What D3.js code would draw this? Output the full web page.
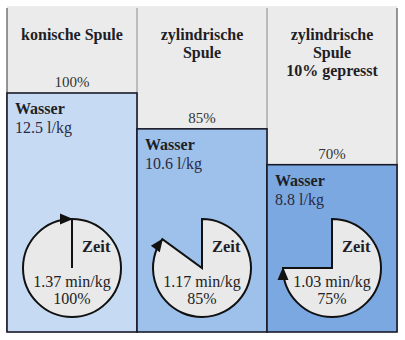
<!DOCTYPE html>
<html><head><meta charset="utf-8">
<script src="https://cdn.jsdelivr.net/npm/d3@7"></script>
<style>html,body{margin:0;padding:0;background:#fff;}svg{display:block;}</style>
</head><body>
<svg id="chart" width="405" height="340"></svg>
<script>
const categories = [["konische Spule"], ["zylindrische", "Spule"], ["zylindrische", "Spule", "10% gepresst"]];
const waterValues = [12.5, 10.6, 8.8];
const waterPct = [100, 85, 70];
const timeValues = [1.37, 1.17, 1.03];
const timePct = [100, 85, 75];
const boxColors = ["#c6dbf3", "#9dc1ea", "#7ba8e1"];

const svg = d3.select("#chart");
const mLeft = 7, mRight = 397, mTop = 6, mBottom = 332;
const x = d3.scaleBand().domain(d3.range(categories.length)).range([mLeft, mRight]).padding(0);
const y = d3.scaleLinear().domain([0, 100]).range([mBottom, 93]);
const fmt = d3.format(".2f");
const serif = "'Liberation Serif', 'DejaVu Serif', serif";
const ink = "#1e1e26";

svg.append("rect").attr("x", mLeft).attr("y", mTop).attr("width", mRight - mLeft).attr("height", mBottom - mTop).attr("fill", "#ebebeb");
x.domain().forEach(i => {
  if (i > 0) svg.append("line").attr("x1", x(i)).attr("x2", x(i)).attr("y1", mTop + 2).attr("y2", mBottom).attr("stroke", "#8a8a8a").attr("stroke-width", 1);
});
svg.append("line").attr("x1", mLeft).attr("x2", mLeft).attr("y1", mTop + 2).attr("y2", mBottom).attr("stroke", "#555").attr("stroke-width", 1.2);
svg.append("line").attr("x1", mRight).attr("x2", mRight).attr("y1", mTop + 2).attr("y2", mBottom).attr("stroke", "#555").attr("stroke-width", 1.2);

const g = svg.selectAll("g.col").data(categories).enter().append("g").attr("class", "col");

g.each(function(lines, i) {
  const t = d3.select(this).append("text").attr("font-family", serif).attr("font-weight", "bold").attr("font-size", 16)
    .attr("fill", ink).attr("text-anchor", "middle");
  lines.forEach((l, k) => t.append("tspan").attr("x", x(i) + x.bandwidth() / 2).attr("y", 40 + k * 18).text(l));
});

g.append("rect").attr("x", (d, i) => x(i)).attr("y", (d, i) => y(waterPct[i]))
  .attr("width", x.bandwidth()).attr("height", (d, i) => mBottom - y(waterPct[i]))
  .attr("fill", (d, i) => boxColors[i]).attr("stroke", "#1a1a28").attr("stroke-width", 1.6);

g.append("text").attr("x", (d, i) => x(i) + x.bandwidth() / 2).attr("y", (d, i) => y(waterPct[i]) - 6)
  .attr("text-anchor", "middle").attr("font-family", serif).attr("font-size", 15).attr("fill", "#333")
  .text((d, i) => waterPct[i] + "%");

g.append("text").attr("x", (d, i) => x(i) + 8).attr("y", (d, i) => y(waterPct[i]) + 21)
  .attr("font-family", serif).attr("font-weight", "bold").attr("font-size", 16).attr("fill", ink).text("Wasser");
g.append("text").attr("x", (d, i) => x(i) + 8).attr("y", (d, i) => y(waterPct[i]) + 40)
  .attr("font-family", serif).attr("font-size", 16).attr("fill", "#2a2a44").text((d, i) => waterValues[i] + " l/kg");

const r = 49, cy = 268;
const angle = d3.scaleLinear().domain([0, 100]).range([0, 2 * Math.PI]);
const arc = d3.arc().innerRadius(0).outerRadius(r).startAngle(0);
g.each(function(d, i) {
  const cx = x(i) + x.bandwidth() / 2;
  const pg = d3.select(this).append("g").attr("transform", `translate(${cx},${cy})`);
  const a = angle(timePct[i]);
  if (timePct[i] >= 100) {
    pg.append("circle").attr("r", r).attr("fill", "#e9e9ea").attr("stroke", "#111").attr("stroke-width", 2);
  } else {
    pg.append("path").attr("d", arc({endAngle: a})).attr("fill", "#e9e9ea").attr("stroke", "#111").attr("stroke-width", 2).attr("stroke-linejoin", "miter");
  }
  pg.append("line").attr("x1", 0).attr("y1", 0).attr("x2", 0).attr("y2", -r).attr("stroke", "#111").attr("stroke-width", 2);
  const ex = r * Math.sin(a), ey = -r * Math.cos(a);
  const tx = Math.cos(a), ty = Math.sin(a);
  const nx = -ty, ny = tx;
  const L = 12, W = 5.5;
  const tip = [ex + tx * 1, ey + ty * 1];
  const bx = ex - tx * L, by = ey - ty * L;
  pg.append("path").attr("d", `M${tip[0]},${tip[1]}L${bx + nx * W},${by + ny * W}L${bx - nx * W},${by - ny * W}Z`).attr("fill", "#111");
  pg.append("text").attr("x", 10).attr("y", -16).attr("font-family", serif).attr("font-weight", "bold").attr("font-size", 16.5).attr("fill", ink).text("Zeit");
  pg.append("text").attr("x", 0).attr("y", 19).attr("text-anchor", "middle").attr("font-family", serif).attr("font-size", 16).attr("fill", "#222").text(fmt(timeValues[i]) + " min/kg");
  pg.append("text").attr("x", 0).attr("y", 36).attr("text-anchor", "middle").attr("font-family", serif).attr("font-size", 16).attr("fill", "#222").text(timePct[i] + "%");
});
</script>
</body></html>
